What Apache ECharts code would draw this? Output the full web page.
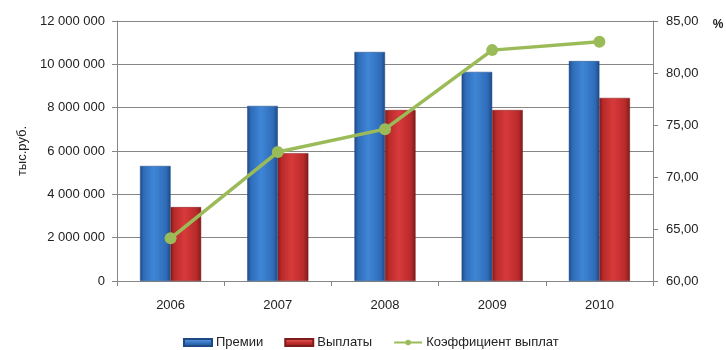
<!DOCTYPE html>
<html><head><meta charset="utf-8">
<script src="https://cdn.jsdelivr.net/npm/echarts@6/dist/echarts.min.js"></script>
<style>html,body{margin:0;padding:0;background:#fff}#c{width:726px;height:350px}</style>
</head><body><div id="c"></div>
<script>
const categories = ['2006','2007','2008','2009','2010'];
const premii = [5310000, 8080000, 10570000, 9650000, 10150000];
const vyplaty = [3410000, 5900000, 7890000, 7890000, 8450000];
const koef = [64.1, 72.4, 74.6, 82.2, 83.0];
const seriesNames = ['Премии','Выплаты','Коэффициент выплат'];
const leftAxisName = 'тыс.руб.';
const rightAxisName = '%';

const FONT = 'Liberation Sans';
function grad(dark, mid, light){
  return new echarts.graphic.LinearGradient(0,0,1,0,[
    {offset:0,color:dark},{offset:0.12,color:mid},{offset:0.45,color:light},
    {offset:0.85,color:mid},{offset:1,color:dark}]);
}
const blue = grad('#1d4a86','#2f6cb8','#3f86d6');
const red = grad('#7e1b1b','#b82a2a','#d83a3a');
const legBlue = new echarts.graphic.LinearGradient(0,0,0,1,[
  {offset:0,color:'#6fa3e0'},{offset:0.5,color:'#3777c5'},{offset:1,color:'#1d4a86'}]);
const legRed = new echarts.graphic.LinearGradient(0,0,0,1,[
  {offset:0,color:'#e87070'},{offset:0.5,color:'#c73030'},{offset:1,color:'#7e1b1b'}]);

const chart = echarts.init(document.getElementById('c'), null, {renderer:'canvas'});
chart.setOption({
  animation:false,
  textStyle:{fontFamily:FONT},
  grid:{left:117,right:73,top:21,bottom:69,containLabel:false,outerBoundsMode:'none'},
  legend:{
    top:331, left:178, itemWidth:28, itemHeight:7, itemGap:21,
    textStyle:{fontFamily:FONT,fontSize:13,color:'#222',padding:[0,0,0,-1]},
    data:[
      {name:seriesNames[0],icon:'rect',itemStyle:{color:legBlue}},
      {name:seriesNames[1],icon:'rect',itemStyle:{color:legRed}},
      {name:seriesNames[2]}
    ]
  },
  xAxis:{
    type:'category', data:categories, boundaryGap:true,
    axisLine:{lineStyle:{color:'#868686',width:1}},
    axisTick:{show:true,length:5,lineStyle:{color:'#868686'}},
    axisLabel:{margin:18,fontSize:13,color:'#222',fontFamily:FONT}
  },
  yAxis:[{
    type:'value', min:0, max:12000000, interval:2000000,
    name:leftAxisName, nameLocation:'middle', nameGap:88, nameRotate:90,
    nameTextStyle:{fontSize:13,color:'#222',fontFamily:FONT},
    axisLine:{show:true,lineStyle:{color:'#868686'}},
    axisTick:{show:true,length:5,lineStyle:{color:'#868686'}},
    splitLine:{show:true,lineStyle:{color:'#868686',width:1}},
    axisLabel:{margin:12,fontSize:13,color:'#222',fontFamily:FONT,
      formatter:v=>String(v).replace(/\B(?=(\d{3})+(?!\d))/g,' ')}
  },{
    type:'value', min:60, max:85, interval:5, position:'right',
    name:rightAxisName, nameLocation:'end', nameGap:0,
    nameTextStyle:{fontSize:12,fontWeight:'bold',color:'#222',fontFamily:FONT,padding:[0,0,-10,130]},
    axisLine:{show:true,lineStyle:{color:'#868686'}},
    axisTick:{show:true,length:5,lineStyle:{color:'#868686'}},
    splitLine:{show:false},
    axisLabel:{margin:13,fontSize:13,color:'#222',fontFamily:FONT,
      formatter:v=>v.toFixed(2).replace('.',',')}
  }],
  series:[
    {name:seriesNames[0],type:'bar',data:premii,barGap:'0%',barCategoryGap:'43%',
      itemStyle:{color:blue,borderColor:'#1d4a86',borderWidth:0.5}},
    {name:seriesNames[1],type:'bar',data:vyplaty,
      itemStyle:{color:red,borderColor:'#7e1b1b',borderWidth:0.5}},
    {name:seriesNames[2],type:'line',yAxisIndex:1,data:koef,
      symbol:'circle',symbolSize:12,
      lineStyle:{color:'#9bbb59',width:3.5},
      itemStyle:{color:'#9bbb59'}}
  ]
});
</script></body></html>
